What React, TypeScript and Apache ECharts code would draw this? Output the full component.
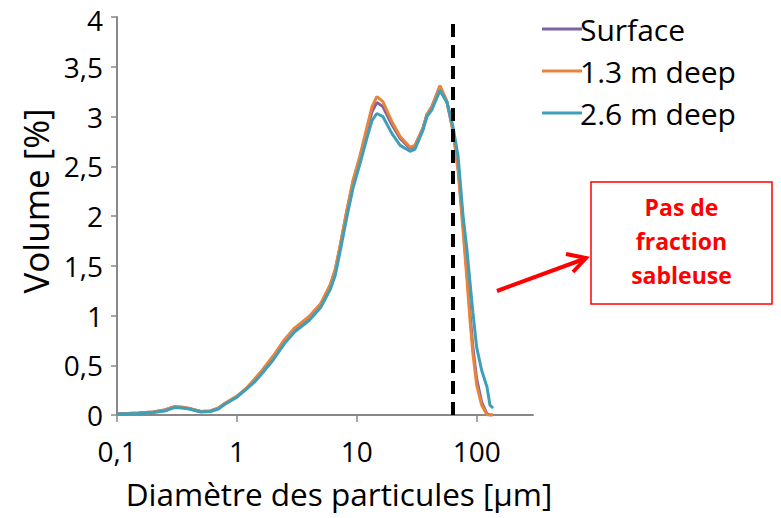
import React, { useEffect, useRef } from "react";
import * as echarts from "echarts";

const diameters = [0.1, 0.15, 0.2, 0.25, 0.3, 0.35, 0.4, 0.5, 0.6, 0.7, 0.8, 1, 1.2, 1.4, 1.6, 2, 2.5, 3, 4, 5, 6, 6.6, 7.2, 8.3, 9.3, 10.6, 12.2, 13.4, 14.7, 16.5, 19.6, 23, 27.8, 30.5, 35.6, 38.5, 42.4, 49.4, 56.5, 63.4, 70, 77, 83, 88, 93, 100, 110, 122, 129, 137];

const surface = [0.01, 0.02, 0.03, 0.05, 0.08, 0.075, 0.065, 0.035, 0.04, 0.07, 0.115, 0.185, 0.265, 0.35, 0.43, 0.58, 0.75, 0.86, 0.98, 1.11, 1.3, 1.45, 1.67, 2.06, 2.34, 2.58, 2.87, 3.05, 3.14, 3.1, 2.92, 2.78, 2.68, 2.7, 2.88, 3.02, 3.1, 3.3, 3.15, 2.87, 2.5, 1.92, 1.42, 1.02, 0.68, 0.36, 0.13, 0.01, 0, 0];

const deep13 = [0.01, 0.02, 0.03, 0.05, 0.085, 0.08, 0.065, 0.035, 0.04, 0.07, 0.12, 0.19, 0.27, 0.36, 0.44, 0.59, 0.76, 0.87, 0.99, 1.12, 1.31, 1.46, 1.68, 2.07, 2.36, 2.6, 2.9, 3.1, 3.2, 3.15, 2.95, 2.8, 2.69, 2.71, 2.88, 3.02, 3.1, 3.31, 3.15, 2.85, 2.45, 1.85, 1.36, 0.95, 0.62, 0.3, 0.1, 0, 0, 0];

const deep26 = [0.01, 0.015, 0.025, 0.04, 0.075, 0.07, 0.06, 0.03, 0.035, 0.06, 0.11, 0.18, 0.26, 0.33, 0.41, 0.55, 0.72, 0.83, 0.95, 1.08, 1.26, 1.4, 1.62, 2.0, 2.28, 2.52, 2.79, 2.96, 3.03, 3.0, 2.83, 2.71, 2.65, 2.67, 2.86, 3.0, 3.07, 3.26, 3.14, 2.9, 2.6, 2.0, 1.66, 1.33, 1.03, 0.68, 0.45, 0.28, 0.1, 0.07];

const seriesNames = ["Surface", "1.3 m deep", "2.6 m deep"];
const seriesColors = ["#7E62A0", "#E8843D", "#3E9FB9"];
const xTickValues = [0.1, 1, 10, 100];
const yMax = 4;
const sandLimit = 63.4;
const xTitle = "Diamètre des particules [µm]";
const yTitle = "Volume [%]";

const FONT = "Open Sans";

export default function App() {
  const ref = useRef<HTMLDivElement>(null);
  useEffect(() => {
    if (!ref.current) return;
    const chart = echarts.init(ref.current, null, { renderer: "svg" });
    const allValues = [surface, deep13, deep26];
    const series: any[] = allValues.map((vals, k) => ({
      name: seriesNames[k],
      type: "line",
      data: diameters.map((d, i) => [d, vals[i]]),
      showSymbol: false,
      symbol: "none",
      lineStyle: { color: seriesColors[k], width: 3 },
      itemStyle: { color: seriesColors[k] },
      z: 2 + k,
      silent: true,
    }));
    series[0].markLine = {
      silent: true,
      symbol: "none",
      label: { show: false },
      lineStyle: { color: "#000", width: 4, type: [13, 8] },
      data: [{ xAxis: sandLimit }],
      z: 10,
    };
    chart.setOption({
      animation: false,
      backgroundColor: "#fff",
      grid: { left: 117, top: 17, width: 416, height: 398, containLabel: false },
      legend: {
        orient: "vertical",
        left: 537,
        top: 8,
        itemWidth: 40,
        itemHeight: 3,
        itemGap: 10,
        icon: "rect",
        data: seriesNames,
        textStyle: { fontFamily: FONT, fontSize: 30, color: "#000", lineHeight: 32, padding: [0, 0, 0, -7] },
      },
      xAxis: {
        type: "log",
        logBase: 10,
        min: 0.1,
        max: 295,
        name: xTitle,
        nameLocation: "middle",
        nameGap: 62,
        nameTextStyle: { fontFamily: FONT, fontSize: 31.5, color: "#000", padding: [0, 0, 0, 28] },
        axisLine: { show: true, lineStyle: { color: "#888", width: 2 } },
        axisTick: { show: true, inside: false, length: 7, lineStyle: { color: "#888", width: 1.5 }, customValues: xTickValues },
        axisLabel: {
          fontFamily: FONT,
          fontSize: 28,
          color: "#000",
          margin: 22,
          customValues: xTickValues,
          formatter: (v: number) => String(v).replace(".", ","),
        },
        splitLine: { show: false },
        minorTick: { show: false },
      },
      yAxis: {
        type: "value",
        min: 0,
        max: yMax,
        interval: 0.5,
        axisLine: { show: true, lineStyle: { color: "#888", width: 2 } },
        axisTick: { show: true, inside: false, length: 6, lineStyle: { color: "#888", width: 1.5 } },
        axisLabel: {
          fontFamily: FONT,
          fontSize: 28,
          lineHeight: 28,
          color: "#000",
          margin: 14,
          formatter: (v: number) => (v === yMax ? "{t|" + String(v) + "}" : String(v).replace(".", ",")),
          rich: {
            t: { fontFamily: FONT, fontSize: 28, lineHeight: 28, color: "#000", padding: [6, 0, 0, 0] },
          },
        },
        splitLine: { show: false },
      },
      series,
      graphic: [
        {
          type: "text",
          x: 35,
          y: 201,
          rotation: Math.PI / 2,
          style: {
            text: yTitle,
            fill: "#000",
            font: `35px "${FONT}"`,
            textAlign: "center",
            textVerticalAlign: "middle",
          },
        },
        {
          type: "rect",
          shape: { x: 591, y: 182, width: 181, height: 122 },
          style: { fill: "#fff", stroke: "#FF0000", lineWidth: 1.5 },
        },
        {
          type: "text",
          x: 681.5,
          y: 241,
          style: {
            text: "Pas de\nfraction\nsableuse",
            fill: "#FF0000",
            font: `bold 23px "${FONT}"`,
            textAlign: "center",
            textVerticalAlign: "middle",
            lineHeight: 34,
          },
        },
        {
          type: "line",
          shape: { x1: 497, y1: 291, x2: 584, y2: 259 },
          style: { stroke: "#FF0000", lineWidth: 4 },
        },
        {
          type: "polyline",
          shape: { points: [[566, 254], [586, 258], [573, 272]] },
          style: { stroke: "#FF0000", lineWidth: 4, fill: null },
        },
      ],
    });
    return () => chart.dispose();
  }, []);
  return <div ref={ref} style={{ position: "fixed", left: 0, top: 0, width: 781, height: 518 }} />;
}
